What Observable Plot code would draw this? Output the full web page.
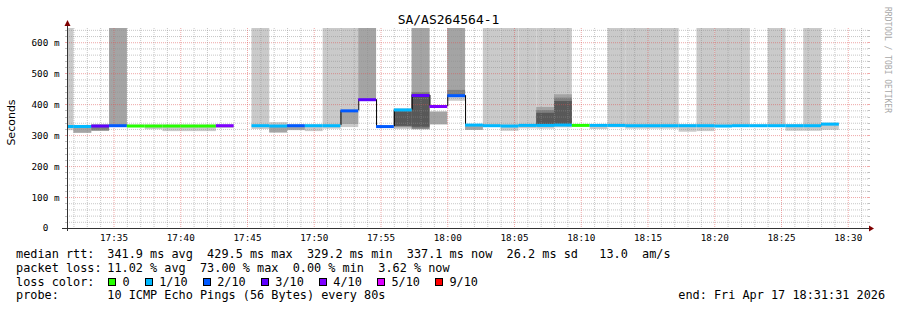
<!DOCTYPE html>
<html>
<head>
<meta charset="utf-8">
<script src="https://cdn.jsdelivr.net/npm/d3@7"></script>
<script src="https://cdn.jsdelivr.net/npm/@observablehq/plot@0.6"></script>
<style>
  html, body { margin: 0; padding: 0; background: #fff; }
  #wrap { position: relative; width: 897px; height: 310px; overflow: hidden; font-family: "DejaVu Sans Mono", monospace; color: #000; }
  #chart { position: absolute; left: 0; top: 0; }
  .t { position: absolute; white-space: pre; }
  .leg { font-size: 11.85px; line-height: 14px; }
  .box { position: absolute; width: 6px; height: 6px; border: 1px solid #000; }
</style>
</head>
<body>
<div id="wrap"><div id="chart"></div></div>
<script>
// ---------------- data ----------------
const title = "SA/AS264564-1";
const day = "2026-04-17";
const viewStart = "17:31:31";
const viewEnd = "18:31:31";
const stepSeconds = 80;
// start time of each 80 s step
const stepStarts = [
  "17:30:40","17:32:00","17:33:20","17:34:40","17:36:00","17:37:20","17:38:40","17:40:00","17:41:20","17:42:40",
  "17:44:00","17:45:20","17:46:40","17:48:00","17:49:20","17:50:40","17:52:00","17:53:20","17:54:40","17:56:00",
  "17:57:20","17:58:40","18:00:00","18:01:20","18:02:40","18:04:00","18:05:20","18:06:40","18:08:00","18:09:20",
  "18:10:40","18:12:00","18:13:20","18:14:40","18:16:00","18:17:20","18:18:40","18:20:00","18:21:20","18:22:40",
  "18:24:00","18:25:20","18:26:40","18:28:00"
];
// median rtt (ms) per step
const median = [
  329.5, 329.5, 331, 332, 331, 331, 331, 331, 331, 332,
  null, 332, 331, 332, 332, 332, 380, 416, 329.2, 383,
  429.5, 394, 429, 334, 332, 331, 333, 333, 334, 333,
  333, 333, 332, 332, 332, 332, 332, 331, 332, 332,
  332, 332, 332, 337.1
];
// lost pings out of 10 per step
const lossTenths = [
  1, 1, 3, 2, 0, 0, 0, 0, 0, 4,
  null, 1, 1, 2, 1, 1, 2, 3, 2, 1,
  3, 4, 2, 1, 1, 1, 1, 1, 1, 0,
  1, 1, 1, 1, 1, 1, 1, 1, 1, 1,
  1, 1, 1, 1
];
// smoke bands [low, high] in ms (outermost .. innermost pings)
const smokeOuter = [
  [316,650],[307,333],[315,334],[329,650],[328,334],[319,334],[313,334],[313,334],[313,334],[323,334],
  null,[320,650],[308,342],[316,334],[313,334],[321,650],[326,650],[413,650],[328,332],[320,386],
  [318,650],[335,376],[411,650],[317,334],[330,650],[314,650],[322,650],[321,650],[325,650],[330,335],
  [320,335],[325,650],[321,650],[321,650],[321,650],[311,335],[313,650],[330,650],[330,650],[330,334],
  [330,650],[314,335],[314,650],[317,340]
];
const smokeSecond = [
  null,[308,332],[315,334],[330,650],null,null,null,null,null,null,
  null,null,[309,330],[317,333],null,null,[336,376],[413,650],null,[325,384],
  [320,650],[335,376],[424,650],[317,333],null,null,null,[329,391],[330,432],null,
  null,null,null,null,null,null,null,null,null,null,
  null,null,null,null
];
const smokeThird = [
  null,null,[315,333],null,null,null,null,null,null,null,
  null,null,null,null,null,null,null,null,null,[328,380],
  [321,439],null,[430,446],null,null,null,null,[331,381],[332,421],null,
  null,null,null,null,null,null,null,null,null,null,
  null,null,null,null
];
const smokeInner = [
  null,null,null,null,null,null,null,null,null,null,
  null,null,null,null,null,null,null,null,null,[330,377],
  [327,433],null,null,null,null,null,null,[333,372],[335,410],null,
  null,null,null,null,null,null,null,null,null,null,
  null,null,null,null
];
const smokeColors = ["#cacaca", "#a4a4a4", "#7e7e7e", "#585858"];
const yMax = 646;
const yMajorTicks = [0, 100, 200, 300, 400, 500, 600];
const xTickLabels = ["17:35","17:40","17:45","17:50","17:55","18:00","18:05","18:10","18:15","18:20","18:25","18:30"];
const lossLabels = ["0", "1/10", "2/10", "3/10", "4/10", "5/10", "9/10"];
const lossColors = ["#26ff00", "#00b8ff", "#0059ff", "#5e00ff", "#7e00ff", "#dd00ff", "#ff0000"];
const rttLabel = "median rtt:";
const rttStats = "341.9 ms avg  429.5 ms max  329.2 ms min  337.1 ms now  26.2 ms sd   13.0  am/s";
const lossLabel = "packet loss:";
const lossStats = "11.02 % avg  73.00 % max  0.00 % min  3.62 % now";
const lossColorLabel = "loss color:";
const probeLabel = "probe:";
const probeText = "10 ICMP Echo Pings (56 Bytes) every 80s";
const endText = "end: Fri Apr 17 18:31:31 2026";
const yLabel = "Seconds";
const watermark = "RRDTOOL / TOBI OETIKER";

// ---------------- build ----------------
const toDate = s => new Date(`${day}T${s}Z`);
const steps = stepStarts.map((s, i) => {
  const t0 = toDate(s);
  return {t0, t1: new Date(+t0 + stepSeconds * 1000), median: median[i], loss: lossTenths[i]};
});
const colorIndex = l => l <= 4 ? l : (l <= 8 ? 5 : 6);
const band = arr => steps.map((d, i) => arr[i] ? {t0: d.t0, t1: d.t1, lo: arr[i][0], hi: arr[i][1]} : null).filter(Boolean);
const valid = steps.filter(d => d.median != null);
const connectors = [];
for (let i = 1; i < steps.length; i++) {
  if (steps[i].median != null && steps[i - 1].median != null && steps[i].median !== steps[i - 1].median)
    connectors.push({t: steps[i].t0, a: steps[i - 1].median, b: steps[i].median});
}
const x0 = toDate(viewStart), x1 = toDate(viewEnd);
const xMajor = xTickLabels.map(toDate);
const xMinor = d3.utcMinute.range(x0, x1).filter(d => d.getUTCMinutes() % 5 !== 0);
const yMinor = d3.range(20, yMax, 20).filter(v => v % 100 !== 0);
const yMajorGrid = yMajorTicks.filter(v => v > 0);

const gridMinor = {stroke: "#8f8f8f", strokeOpacity: 0.5, strokeDasharray: "1,1"};
const gridMajor = {stroke: "#e05050", strokeOpacity: 0.5, strokeDasharray: "1,1"};

const plot = Plot.plot({
  width: 897, height: 310,
  marginLeft: 67, marginRight: 29, marginTop: 28, marginBottom: 82,
  style: {fontFamily: "'DejaVu Sans Mono', monospace", fontSize: "9.3px", color: "#000", background: "transparent"},
  x: {type: "utc", domain: [x0, x1], ticks: xMajor, tickFormat: d3.utcFormat("%H:%M"), tickSize: 0, tickPadding: 6, label: null},
  y: {domain: [0, yMax], ticks: yMajorTicks, tickFormat: d => d === 0 ? "0\u00a0\u00a0" : `${d} m`, tickSize: 0, tickPadding: 8, label: null},
  color: {type: "identity"},
  marks: [
    Plot.rect(band(smokeOuter), {x1: "t0", x2: "t1", y1: "lo", y2: "hi", fill: smokeColors[0], clip: true}),
    Plot.rect(band(smokeSecond), {x1: "t0", x2: "t1", y1: "lo", y2: "hi", fill: smokeColors[1], clip: true}),
    Plot.rect(band(smokeThird), {x1: "t0", x2: "t1", y1: "lo", y2: "hi", fill: smokeColors[2], clip: true}),
    Plot.rect(band(smokeInner), {x1: "t0", x2: "t1", y1: "lo", y2: "hi", fill: smokeColors[3], clip: true}),
    Plot.ruleY(yMinor, gridMinor),
    Plot.ruleY(yMajorGrid, gridMajor),
    Plot.ruleX(xMinor, gridMinor),
    Plot.ruleX(xMajor, gridMajor),
    Plot.ruleX(connectors, {x: "t", y1: "a", y2: "b", stroke: "#000", strokeWidth: 1}),
    Plot.ruleY(valid, {y: "median", x1: "t0", x2: "t1", stroke: d => lossColors[colorIndex(d.loss)], strokeWidth: 3, clip: true})
  ]
});
document.getElementById("chart").appendChild(plot);

// axes, arrows and grid ticks (decoration from the scales)
const sx = plot.scale("x"), sy = plot.scale("y");
const svg = d3.select(plot);
const g = svg.append("g");
const L = sx.apply(x0), R = sx.apply(x1), B = sy.apply(0), T = sy.apply(yMax);
yMinor.forEach(v => {
  const y = Math.round(sy.apply(v)) + 0.5;
  g.append("line").attr("x1", L - 2).attr("x2", L).attr("y1", y).attr("y2", y).attr("stroke", "#8f8f8f").attr("stroke-opacity", 0.56);
  g.append("line").attr("x1", R).attr("x2", R + 2).attr("y1", y).attr("y2", y).attr("stroke", "#8f8f8f").attr("stroke-opacity", 0.56);
});
yMajorGrid.forEach(v => {
  const y = Math.round(sy.apply(v)) + 0.5;
  g.append("line").attr("x1", L - 2).attr("x2", L).attr("y1", y).attr("y2", y).attr("stroke", "#e05050").attr("stroke-opacity", 0.5);
  g.append("line").attr("x1", R).attr("x2", R + 2).attr("y1", y).attr("y2", y).attr("stroke", "#e05050").attr("stroke-opacity", 0.5);
});
const axisColor = "#333";
g.append("line").attr("x1", L - 5).attr("x2", R + 1).attr("y1", B + 0.5).attr("y2", B + 0.5).attr("stroke", axisColor);
g.append("line").attr("x1", L + 0.5).attr("x2", L + 0.5).attr("y1", B + 3).attr("y2", T - 3).attr("stroke", axisColor);
g.append("path").attr("d", `M${R + 1},${B - 2.5}L${R + 6},${B + 0.5}L${R + 1},${B + 3.5}Z`).attr("fill", "#7f0000");
g.append("path").attr("d", `M${L - 2.5},${T - 2}L${L + 0.5},${T - 8}L${L + 3.5},${T - 2}Z`).attr("fill", "#7f0000");

// texts around the chart
const wrap = document.getElementById("wrap");
function addText(txt, left, top, cls, extra) {
  const d = document.createElement("div");
  d.className = "t " + (cls || "");
  d.textContent = txt;
  d.style.left = left + "px";
  d.style.top = top + "px";
  if (extra) Object.assign(d.style, extra);
  wrap.appendChild(d);
  return d;
}
addText(title, 0, 11.5, "", {width: "897px", textAlign: "center", fontSize: "13px", lineHeight: "16px"});
addText(yLabel, -19, 116, "", {width: "60px", textAlign: "center", fontSize: "11px", lineHeight: "13px", transform: "rotate(-90deg)", fontFamily: "'DejaVu Sans', sans-serif"});
addText(watermark, 826.5, 55, "", {width: "120px", textAlign: "center", fontSize: "8px", lineHeight: "10px", color: "#a8a8a8", transform: "rotate(90deg)"});

const cw = 7.14;
const rows = [247.2, 260.8, 274.5, 288.2];
addText(rttLabel, 16, rows[0], "leg");
addText(rttStats, 107.3, rows[0], "leg");
addText(lossLabel, 16, rows[1], "leg");
addText(lossStats, 107.3, rows[1], "leg");
addText(lossColorLabel, 16, rows[2], "leg");
let lx = 108;
lossLabels.forEach((lab, i) => {
  const b = document.createElement("div");
  b.className = "box";
  b.style.left = lx + "px";
  b.style.top = "278px";
  b.style.background = lossColors[i];
  wrap.appendChild(b);
  addText(lab, lx + 14.5, rows[2], "leg");
  lx = lx + 14.5 + lab.length * cw + 15;
});
addText(probeLabel, 16, rows[3], "leg");
addText(probeText, 107.3, rows[3], "leg");
addText(endText, 678.3, rows[3], "leg");
</script>
</body>
</html>
